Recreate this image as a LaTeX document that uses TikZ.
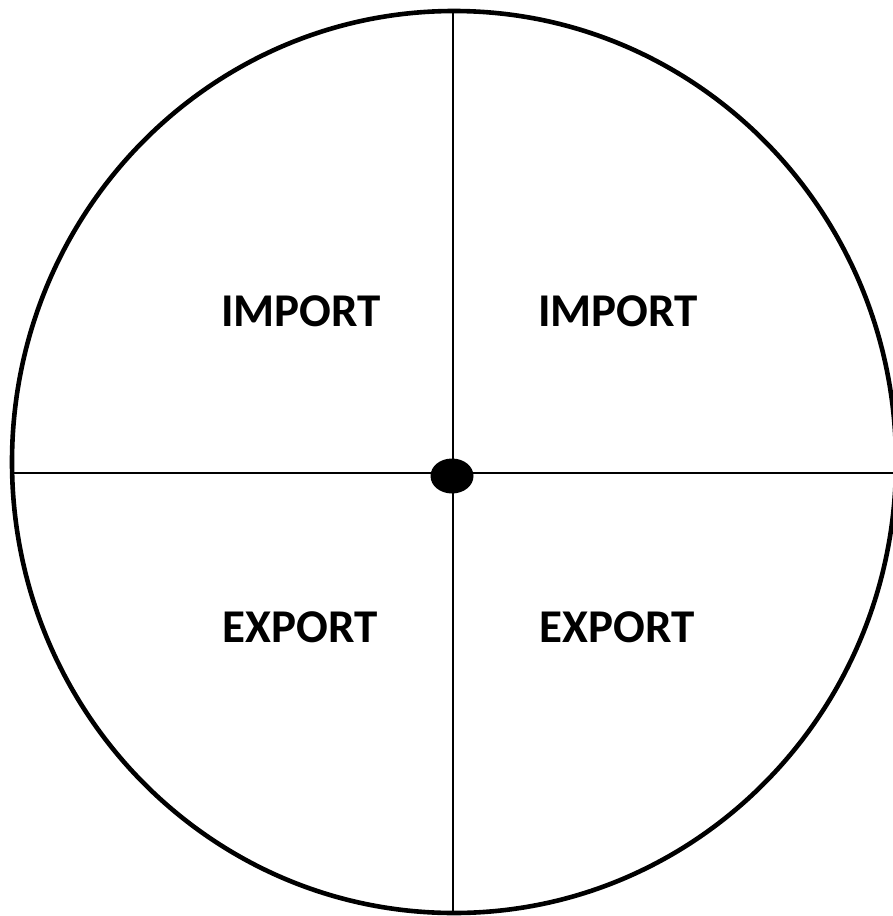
\documentclass[tikz,border=0pt]{standalone}
\usepackage{fontspec}
\setmainfont{Carlito}
\usetikzlibrary{shapes.geometric}

\newcommand*{\cx}{454}
\newcommand*{\cy}{462}
\newcommand*{\rx}{442}
\newcommand*{\ry}{451}

\begin{document}
\begin{tikzpicture}
[
	x=1pt,y=-1pt,
	label/.style={font=\fontsize{47}{50}\selectfont\bfseries,inner sep=0pt},
	hub/.style={ellipse,fill,inner sep=0pt,minimum width=43pt,minimum height=35pt}
]

	\useasboundingbox (0,0) rectangle (893,916);
	\clip (0,0) rectangle (893,916);

	% wheel
	\draw[line width=4.6pt] (\cx,\cy) ellipse [x radius=\rx,y radius=\ry];

	% cross
	\draw[line width=1.6pt] (453,10) -- (453,912);
	\draw[line width=1.6pt] (13,473) -- (896,473);

	\node[hub] (hub) at (452,476) {};

	\node[label] (imp1) at (301,311) {IMPORT};
	\node[label] (imp2) at (618,311) {IMPORT};
	\node[label] (exp1) at (300,627) {EXPORT};
	\node[label] (exp2) at (617,627) {EXPORT};

\end{tikzpicture}
\end{document}
